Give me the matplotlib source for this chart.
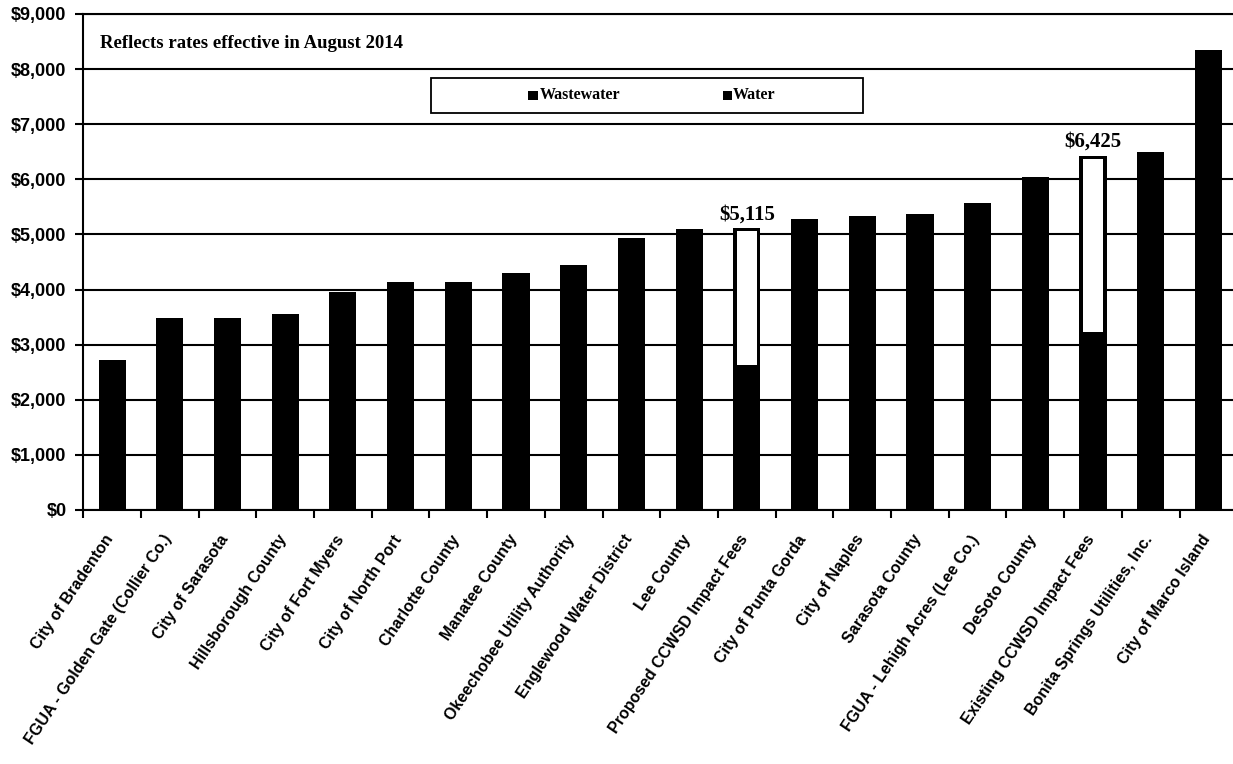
import matplotlib
matplotlib.use("Agg")
import matplotlib.pyplot as plt
import matplotlib.transforms as mtransforms
import numpy as np
from matplotlib.patches import Rectangle

categories = [
    "City of Bradenton", "FGUA - Golden Gate (Collier Co.)", "City of Sarasota",
    "Hillsborough County", "City of Fort Myers", "City of North Port",
    "Charlotte County", "Manatee County", "Okeechobee Utility Authority",
    "Englewood Water District", "Lee County", "Proposed CCWSD Impact Fees",
    "City of Punta Gorda", "City of Naples", "Sarasota County",
    "FGUA - Lehigh Acres (Lee Co.)", "DeSoto County", "Existing CCWSD Impact Fees",
    "Bonita Springs Utilities, Inc.", "City of Marco Island",
]
totals = [2730, 3490, 3490, 3560, 3960, 4140, 4140, 4300, 4450, 4940,
          5100, 5115, 5280, 5335, 5370, 5570, 6040, 6425, 6500, 8350]
# CCWSD bars: lower (black) segment and total
ccwsd_names = ["Proposed CCWSD Impact Fees", "Existing CCWSD Impact Fees"]
ccwsd_lower = [2630, 3230]
ccwsd_labels = ["$5,115", "$6,425"]
legend_labels = ["Wastewater", "Water"]
yticks = [0, 1000, 2000, 3000, 4000, 5000, 6000, 7000, 8000, 9000]
ytick_labels = ["$0", "$1,000", "$2,000", "$3,000", "$4,000", "$5,000",
                "$6,000", "$7,000", "$8,000", "$9,000"]

fig = plt.figure(figsize=(12.33, 7.64), dpi=100)
ax = fig.add_axes([0.0675, 0.3325, 0.936, 0.6492])

x = np.arange(len(categories))
w = 0.47
ax.bar(x, totals, width=w, color="black", zorder=3)
for name, low, lab in zip(ccwsd_names, ccwsd_lower, ccwsd_labels):
    i = categories.index(name)
    top_inset = 50
    ax.bar(i, totals[i] - low - top_inset, bottom=low, width=w * 0.72, color="white",
           linewidth=0, zorder=4)
    ax.text(i, totals[i] + 70, lab, ha="center", va="bottom",
            fontfamily="Liberation Serif", fontweight="bold", fontsize=15, zorder=5)

ax.set_xlim(-0.5, len(categories) - 0.5)
ax.set_ylim(0, 9000)
ax.set_yticks(yticks)
ax.set_yticklabels(ytick_labels, fontfamily="Liberation Sans", fontweight="bold", fontsize=13)
ax.yaxis.grid(True, color="black", linewidth=1.5, zorder=1)
ax.set_axisbelow(True)

ax.set_xticks(x)
ax.set_xticklabels(categories, rotation=56, ha="right", rotation_mode="anchor",
                   fontfamily="Liberation Sans", fontweight="bold", fontsize=11.5)
ax.tick_params(axis="x", length=0, pad=16)
shift = mtransforms.ScaledTranslation(-0.08, 0, fig.dpi_scale_trans)
for lbl in ax.get_xticklabels():
    lbl.set_transform(lbl.get_transform() + shift)
ax.set_xticks(np.arange(-0.5, len(categories)), minor=True)
ax.tick_params(axis="x", which="minor", length=6, width=1.5, direction="out")
ax.tick_params(axis="y", length=6, width=1.5, direction="out", pad=6)

for s in ax.spines.values():
    s.set_linewidth(1.5)
    s.set_color("black")

ax.text(0.0145, 0.9395, "Reflects rates effective in August 2014", transform=ax.transAxes,
        fontfamily="Liberation Serif", fontweight="bold", fontsize=13.5, va="center")

# legend box
ax.add_patch(Rectangle((0.3017, 0.800), 0.374, 0.071, transform=ax.transAxes,
                       facecolor="white", edgecolor="black", linewidth=1.3, zorder=6))
leg_x = [0.3855, 0.5540]
for lx, lab in zip(leg_x, legend_labels):
    ax.add_patch(Rectangle((lx, 0.8275), 0.0085, 0.017, transform=ax.transAxes,
                           facecolor="black", edgecolor="none", zorder=7))
    ax.text(lx + 0.0105 if lab == "Wastewater" else lx + 0.0085, 0.836, lab,
            transform=ax.transAxes, fontfamily="Liberation Serif", fontweight="bold",
            fontsize=11.5, va="center", ha="left", zorder=7)

fig.savefig("out.png", dpi=100)
